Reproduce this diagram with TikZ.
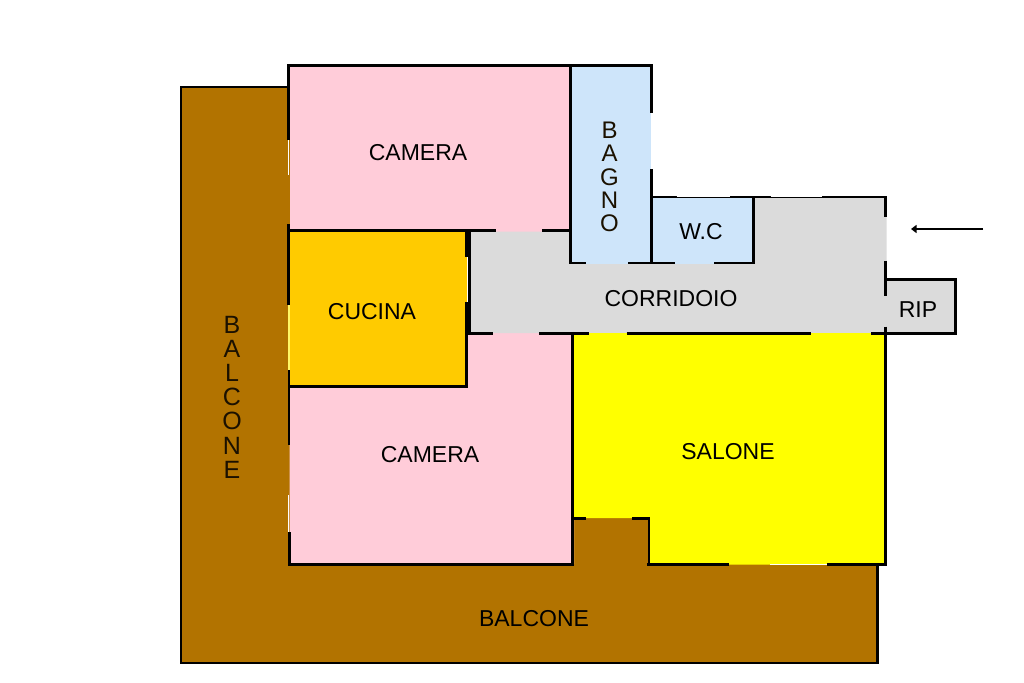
\documentclass[tikz,border=0pt]{standalone}
\usepackage{fontspec}
\setmainfont{Liberation Sans}
\usetikzlibrary{arrows.meta}
\definecolor{pinkroom}{HTML}{FFCCD9}
\definecolor{blueroom}{HTML}{CEE5FA}
\definecolor{brownroom}{HTML}{B27300}
\definecolor{orangeroom}{HTML}{FFCB00}
\definecolor{yellowroom}{HTML}{FFFF00}
\definecolor{grayroom}{HTML}{DBDBDB}
\tikzset{
  wall/.style={draw=black,line width=2.7pt,line cap=butt,line join=miter},
  thinwhite/.style={draw=white,line width=1.2pt,line cap=butt},
  thinyellow/.style={draw=yellow!60!white,line width=1.2pt,line cap=butt},
  room/.style={draw=none},
  lab/.style={font=\fontsize{23}{23}\selectfont,text=black,inner sep=0pt,align=center},
  labstack/.style={font=\fontsize{24}{23.4}\selectfont,text=black!85!brownroom,inner sep=0pt,align=center},
}
\begin{document}
\begin{tikzpicture}[x=1pt,y=-1pt]
\useasboundingbox (0,0) rectangle (1024,682);
\fill[white] (0,0) rectangle (1024,682);
% fills
\fill[room,brownroom] (181,87)--(290.5,87)--(290.5,563)--(571,563)--(571,517)--(650,517)--(650,563)--(877,563)--(877,663)--(181,663)--cycle;
\fill[room,pinkroom] (289.5,65.5) rectangle (572,232.5);
\fill[room,pinkroom] (289.5,385)--(465,385)--(465,332)--(574,332)--(574,564)--(289.5,564)--cycle;
\fill[room,blueroom] (570,65.5) rectangle (651,265);
\fill[room,blueroom] (651,197) rectangle (755,265);
\fill[room,grayroom] (469,231.5)--(571,231.5)--(571,264)--(754,264)--(754,197)--(886.6,197)--(886.6,280)--(955,280)--(955,333)--(469,333)--cycle;
\fill[room,orangeroom] (289.5,231) rectangle (467,386);
\fill[room,yellowroom] (573,333)--(885.5,333)--(885.5,564.5)--(649,564.5)--(649,518)--(573,518)--cycle;
% balcony outline
\draw[wall] (288.5,87)--(181,87)--(181,663)--(877.3,663)--(877.3,564.5);
% camera / left wall
\draw[wall] (288.7,140)--(288.7,65.5)--(651.3,65.5)--(651.3,113);
\draw[thinwhite] (288.2,140)--(288.2,175);
\draw[wall] (288.7,224)--(288.7,305);
\draw[thinyellow] (289,305)--(289,370);
\draw[wall] (288.9,370)--(288.9,445);
\draw[thinwhite] (288.2,495)--(288.2,532);
\draw[wall] (289.3,532)--(289.3,564.5)--(572.3,564.5)--(572.3,518);
% camera/cucina/corridor walls
\draw[wall] (288,230.5)--(496,230.5);
\draw[wall] (542,230.5)--(570.6,230.5);
\draw[wall] (570.6,65.5)--(570.6,263)--(586,263);
\draw[wall] (628.3,263)--(675,263);
\draw[wall] (714.3,263)--(753.7,263)--(753.7,197);
\draw[wall] (651.3,169)--(651.3,264);
\draw[thinwhite] (651.4,113)--(651.4,169);
% cucina
\draw[wall] (288,386.5)--(466.4,386.5)--(466.4,333);
\draw[line width=6pt,line cap=butt] (468,232)--(468,256.7);
\draw[line width=3.2pt,line cap=butt] (469.5,256.7)--(469.5,302);
\draw[line width=6pt,line cap=butt] (468,302)--(468,334.5);
% corridor top and right
\draw[wall] (650,197)--(886.7,197);
\draw[thinwhite] (676.7,196.2)--(730,196.2);
\draw[thinwhite] (770.7,196.2)--(821.7,196.2);
\draw[wall] (885.3,197)--(885.3,216.7);
\draw[wall] (885.3,260.7)--(885.3,296);
\draw[wall] (885.3,326.7)--(885.3,333);
% corridor bottom
\draw[wall] (470,333.2)--(492.7,333.2);
\draw[wall] (539,333.2)--(589.3,333.2);
\draw[wall] (626.7,333.2)--(810.7,333.2);
\draw[wall] (871,333.2)--(955.5,333.2)--(955.5,279.7)--(885,279.7);
% salone
\draw[wall] (572.5,331.8)--(572.5,519);
\draw[wall] (885.7,333)--(885.7,564.5)--(826.7,564.5);
\draw[wall] (729,564.5)--(647,564.5);
\draw[wall] (649,564.5)--(649,518.5)--(632.3,518.5);
\draw[wall] (571,518.5)--(586,518.5);
\draw[thinwhite] (770,564.5)--(826.7,564.5);
% labels
\node[lab] (camera1) at (418,152.5) {CAMERA};
\node[lab] (camera2) at (430,454.5) {CAMERA};
\node[lab] (cucina) at (372,311.5) {CUCINA};
\node[lab] (wc) at (701,232) {W.C};
\node[lab] (corridoio) at (671,298.5) {CORRIDOIO};
\node[lab] (rip) at (918,309.5) {RIP};
\node[lab] (salone) at (728,451.5) {SALONE};
\node[lab] (balconeh) at (534,618.5) {BALCONE};
\node[labstack] (bagno) at (609.5,177) {B\\A\\G\\N\\O};
\node[labstack,font=\fontsize{25}{24.2}\selectfont] (balconev) at (232,397) {B\\A\\L\\C\\O\\N\\E};
% entrance arrow
\coordinate (entryTail) at (983,229);
\coordinate (entryTip) at (911,229);
\draw[line width=1.3pt,-{Triangle[length=5.5pt,width=8pt]}] (entryTail)--(entryTip);
\end{tikzpicture}
\end{document}
